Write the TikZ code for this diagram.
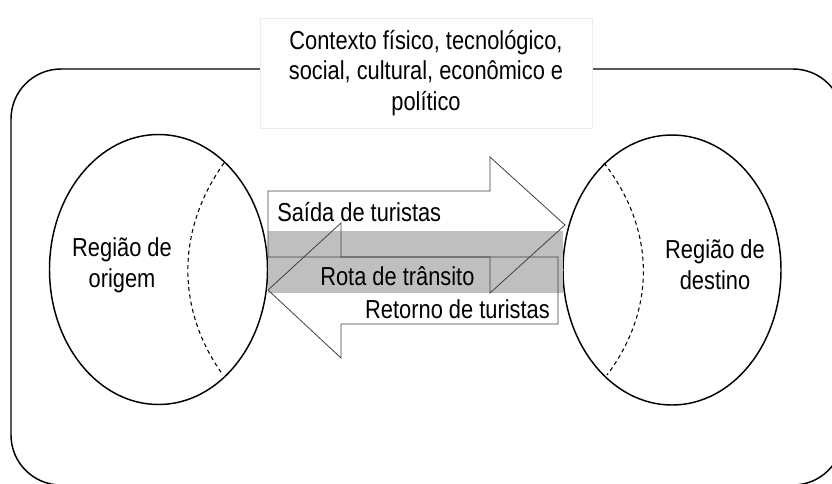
\documentclass[tikz,border=0pt]{standalone}
\usepackage{fontspec}
\setmainfont{Liberation Sans}[FakeStretch=0.84]
\usetikzlibrary{shapes.geometric}

\begin{document}
\begin{tikzpicture}[x=0.75pt, y=-0.75pt,
    every node/.style={font=\fontsize{19.5}{23}\selectfont, inner sep=0pt},
    regiao/.style={ellipse, draw, line width=1.1pt, minimum width=163.5pt, minimum height=202.5pt},
    divisa/.style={line width=0.8pt, dash pattern=on 3pt off 2.5pt},
    seta/.style={draw=black!75, line width=0.6pt},
    faixa/.style={fill=gray!50}]
    \useasboundingbox (0,0) rectangle (832,483);

    % moldura do contexto
    \draw[line width=1.1pt, rounded corners=37.5pt] (11,69) rectangle (843,485);
    \node[draw=gray!15, fill=white, minimum width=249pt, minimum height=82.5pt, align=center]
        (contexto) at (426,73) {Contexto físico, tecnológico,\\social, cultural, econômico e\\político};

    % regioes
    \node[regiao] (origem) at (158.5,269.5) {};
    \node[regiao] (destino) at (672,270) {};
    \draw[divisa] (224,163) .. controls (176,230) and (176,310) .. (223,375);
    \draw[divisa] (604,163) .. controls (656,230) and (656,310) .. (607,375);
    \node[align=center] (txtorigem) at (122,265) {Região de\\origem};
    \node[align=center] (txtdestino) at (715,265) {Região de\\destino};

    % setas e rota
    \fill[white] (268,191) -- (490,191) -- (490,157) -- (565,225) -- (490,293) -- (490,257) -- (268,257) -- cycle;
    \fill[white] (558,257) -- (341,257) -- (341,223) -- (268,290) -- (341,358) -- (341,324) -- (558,324) -- cycle;
    \fill[faixa] (268,231) rectangle (563,293);
    \draw[seta] (268,191) -- (490,191) -- (490,157) -- (565,225) -- (490,293) -- (490,257) -- (268,257) -- cycle;
    \draw[seta] (558,257) -- (341,257) -- (341,223) -- (268,290) -- (341,358) -- (341,324) -- (558,324) -- cycle;

    \node[anchor=base west] (saida) at (277,221) {Saída de turistas};
    \node[anchor=base west] (rota) at (320,285) {Rota de trânsito};
    \node[anchor=base east] (retorno) at (550,318) {Retorno de turistas};
\end{tikzpicture}
\end{document}
